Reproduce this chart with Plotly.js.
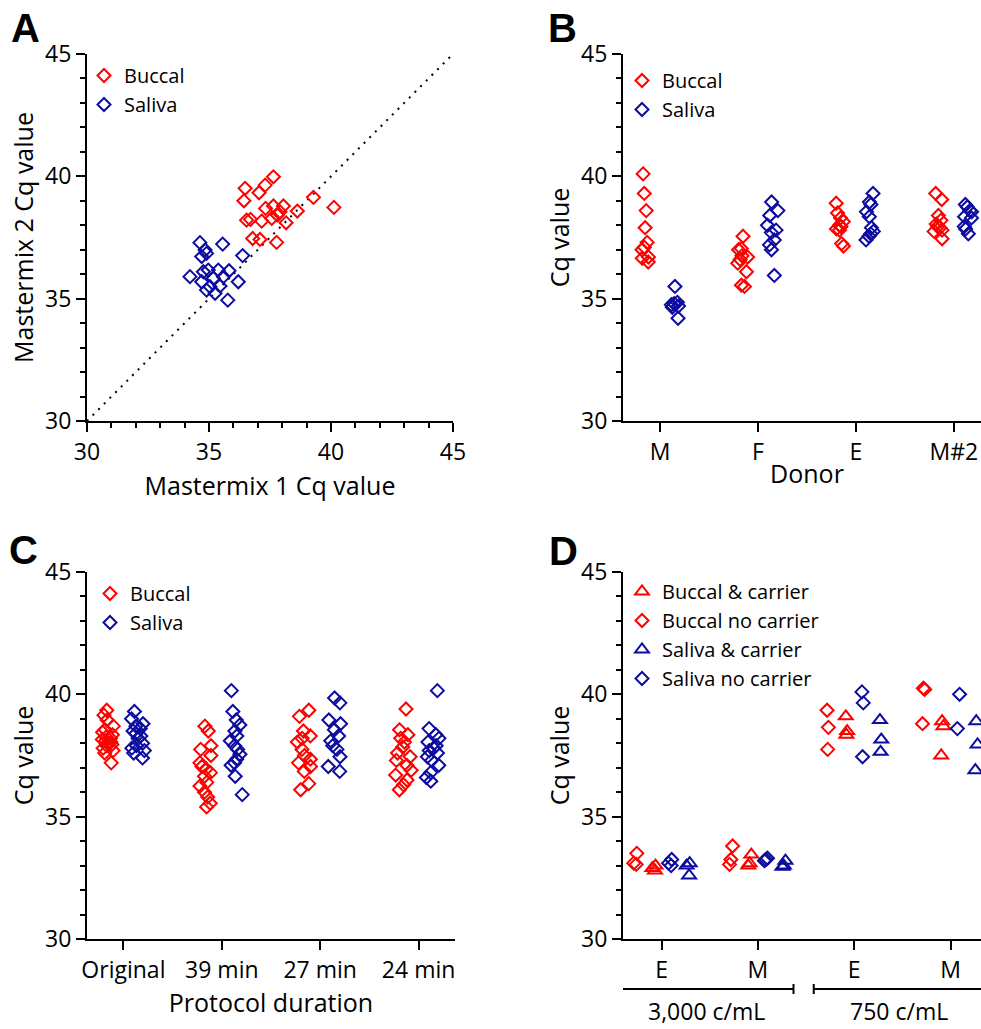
<!DOCTYPE html>
<html><head><meta charset="utf-8">
<script src="https://cdn.plot.ly/plotly-3.0.1.min.js"></script>
<style>
html,body{margin:0;padding:0;overflow:hidden;background:#fff;width:981px;height:1029px}
#chart{width:1000px;height:1029px}
</style>
</head><body><div id="chart"></div>
<script>
// ---------- DATA ----------
// Panel A: Mastermix 1 vs Mastermix 2 Cq values
const aBuccalX = [36.48,36.43,37.05,37.30,37.64,39.28,40.12,37.32,37.64,38.05,37.91,38.62,36.54,36.70,37.16,37.57,37.80,38.16,36.79,37.09,37.77];
const aBuccalY = [39.51,39.00,39.33,39.64,39.98,39.14,38.73,38.69,38.79,38.79,38.55,38.58,38.21,38.24,38.17,38.28,38.42,38.10,37.46,37.42,37.30];
const aSalivaX = [34.63,35.56,34.84,34.70,34.90,36.38,34.22,34.77,34.97,35.38,35.82,35.18,35.59,36.20,34.70,34.90,35.25,35.77,35.04,35.45];
const aSalivaY = [37.29,37.23,36.99,36.72,36.85,36.76,35.90,36.10,36.17,36.17,36.14,35.83,35.90,35.69,35.69,35.35,35.22,34.94,35.49,35.52];
const identityLine = [30, 45];

// Panel B: by donor
const donors = ['M','F','E','M#2'];
const bBuccal = [
  [40.1,39.3,38.6,37.9,37.3,37.1,37.0,36.7,36.65,36.5],
  [37.55,37.05,37.0,36.75,36.7,36.6,36.45,36.1,35.5,35.55],
  [38.9,38.5,38.3,38.15,38.0,37.95,37.85,37.8,37.25,37.15],
  [39.3,39.05,38.4,38.2,38.05,37.95,37.9,37.8,37.75,37.45]
];
const bSaliva = [
  [35.5,34.85,34.8,34.75,34.7,34.65,34.2],
  [38.95,38.6,38.4,38.0,37.8,37.7,37.4,37.2,37.0,35.95],
  [39.3,38.95,38.85,38.55,38.35,37.9,37.75,37.65,37.55,37.4],
  [38.85,38.75,38.6,38.55,38.35,38.3,37.95,37.85,37.65]
];

// Panel C: by protocol duration
const durations = ['Original','39 min','27 min','24 min'];
const cBuccal = [
  [39.35,39.15,38.95,38.7,38.55,38.45,38.35,38.25,38.2,38.15,38.1,38.05,38.0,37.95,37.9,37.8,37.7,37.6,37.2],
  [38.7,38.5,37.9,37.75,37.5,37.2,37.05,36.95,36.8,36.65,36.4,36.25,36.0,35.8,35.55,35.4],
  [39.35,39.1,38.5,38.3,38.2,38.05,37.75,37.5,37.35,37.2,37.05,36.85,36.35,36.1],
  [39.4,38.55,38.35,38.2,38.05,37.85,37.6,37.45,37.3,37.1,36.9,36.7,36.5,36.3,36.1]
];
const cSaliva = [
  [39.3,39.0,38.8,38.7,38.6,38.5,38.4,38.3,38.2,38.0,37.9,37.8,37.7,37.6,37.4],
  [40.15,39.3,38.95,38.75,38.5,38.3,38.1,37.9,37.75,37.55,37.35,37.2,37.1,36.65,35.9],
  [39.85,39.65,38.95,38.8,38.55,38.3,38.1,37.9,37.75,37.45,37.05,36.85],
  [40.15,38.6,38.35,38.2,38.05,37.9,37.8,37.7,37.6,37.45,37.3,37.1,36.8,36.6,36.45]
];

// Panel D: donor x concentration, with / without carrier
const dDonorLabels = ['E','M','E','M'];
const dConcLabels = ['3,000 c/mL','750 c/mL'];
const dBuccalNo      = [[33.5,33.1,33.05],[33.8,33.25,33.05],[39.35,38.65,37.75],[40.25,40.2,38.8]];
const dBuccalCarrier = [[33.0,32.9,32.8],[33.45,33.1,33.0],[39.1,38.5,38.35],[38.9,38.7,37.5]];
const dSalivaNo      = [[33.25,33.1,33.0],[33.3,33.25,33.2],[40.1,39.65,37.45],[40.0,38.6]];
const dSalivaCarrier = [[33.1,33.0,32.6],[33.2,33.0,32.95],[38.95,38.15,37.65],[38.9,37.95,36.9]];

// ---------- STYLE ----------
const RED = '#ff0000', BLUE = '#0c0ca0';
const FONT = '"Open Sans", Lato, sans-serif';
const W = 1000, H = 1029;
const px = v => v / W, py = v => 1 - v / H;
const TICK = 23, TITLE = 25, LEG = 20;

function flatX(cats, groups){ const out=[]; groups.forEach((g,i)=>g.forEach(()=>out.push(cats[i]))); return out; }
function flatY(groups){ return [].concat(...groups); }

function boxTrace(cats, groups, color, symbol, xa, ya, group, slot, jitter, pointpos, size){
  return {type:'box', x:flatX(cats,groups), y:flatY(groups), xaxis:xa, yaxis:ya,
    alignmentgroup:group, offsetgroup:group+slot,
    boxpoints:'all', jitter:jitter, pointpos:pointpos,
    fillcolor:'rgba(0,0,0,0)', line:{width:0,color:'rgba(0,0,0,0)'}, whiskerwidth:0,
    marker:{symbol:symbol, size:size, color:color, line:{width:2,color:color}},
    showlegend:false, hoverinfo:'y'};
}
function legendTrace(name, color, symbol, xa, ya, legend, size){
  return {type:'scatter', mode:'markers', x:[null], y:[null], xaxis:xa, yaxis:ya, name:name,
    legend:legend, marker:{symbol:symbol, size:size, color:color, line:{width:2,color:color}}};
}

const idx = [0,1,2,3];
const traces = [
  // A
  {type:'scatter', mode:'lines', x:identityLine, y:identityLine, xaxis:'x', yaxis:'y',
   line:{color:'#000', width:2, dash:'2px,6px'}, showlegend:false, hoverinfo:'skip'},
  {type:'scatter', mode:'markers', x:aBuccalX, y:aBuccalY, xaxis:'x', yaxis:'y', name:'Buccal',
   legend:'legend', marker:{symbol:'diamond-open', size:10, color:RED, line:{width:2,color:RED}}},
  {type:'scatter', mode:'markers', x:aSalivaX, y:aSalivaY, xaxis:'x', yaxis:'y', name:'Saliva',
   legend:'legend', marker:{symbol:'diamond-open', size:10, color:BLUE, line:{width:2,color:BLUE}}},
  // B
  boxTrace(donors, bBuccal, RED, 'diamond-open', 'x2', 'y2', 'b', 1, 0.38, 0, 10),
  boxTrace(donors, bSaliva, BLUE, 'diamond-open', 'x2', 'y2', 'b', 2, 0.38, 0, 10),
  legendTrace('Buccal', RED, 'diamond-open', 'x2', 'y2', 'legend2', 10),
  legendTrace('Saliva', BLUE, 'diamond-open', 'x2', 'y2', 'legend2', 10),
  // C
  boxTrace(durations, cBuccal, RED, 'diamond-open', 'x3', 'y3', 'c', 1, 0.55, 0, 10),
  boxTrace(durations, cSaliva, BLUE, 'diamond-open', 'x3', 'y3', 'c', 2, 0.55, 0, 10),
  legendTrace('Buccal', RED, 'diamond-open', 'x3', 'y3', 'legend3', 10),
  legendTrace('Saliva', BLUE, 'diamond-open', 'x3', 'y3', 'legend3', 10),
  // D (group order: buccal no carrier, buccal & carrier, saliva no carrier, saliva & carrier)
  boxTrace(idx, dBuccalNo, RED, 'diamond-open', 'x4', 'y4', 'd', 1, 0.3, -0.6, 10),
  boxTrace(idx, dBuccalCarrier, RED, 'triangle-up-open', 'x4', 'y4', 'd', 2, 0.3, -0.05, 12),
  boxTrace(idx, dSalivaNo, BLUE, 'diamond-open', 'x4', 'y4', 'd', 3, 0.3, 0.15, 10),
  boxTrace(idx, dSalivaCarrier, BLUE, 'triangle-up-open', 'x4', 'y4', 'd', 4, 0.3, 0.6, 12),
  legendTrace('Buccal & carrier', RED, 'triangle-up-open', 'x4', 'y4', 'legend4', 12),
  legendTrace('Buccal no carrier', RED, 'diamond-open', 'x4', 'y4', 'legend4', 10),
  legendTrace('Saliva & carrier', BLUE, 'triangle-up-open', 'x4', 'y4', 'legend4', 12),
  legendTrace('Saliva no carrier', BLUE, 'diamond-open', 'x4', 'y4', 'legend4', 10)
];

const axisBase = {showline:true, linewidth:2, linecolor:'#000', ticks:'outside', ticklen:9, tickwidth:2,
  tickcolor:'#000', showgrid:false, zeroline:false, tickfont:{size:TICK,color:'#000'}, fixedrange:true};
function yAxis(top, bottom, anchor, title){
  return Object.assign({}, axisBase, {domain:[py(bottom), py(top)], anchor:anchor, range:[30,45],
    tick0:30, dtick:5, minor:{dtick:1, ticks:'outside', ticklen:5, tickwidth:2, tickcolor:'#000'},
    title:{text:title, font:{size:TITLE,color:'#000'}, standoff:4}});
}
function xCat(left, right, anchor, range, title, standoff, extra){
  return Object.assign({}, axisBase, {domain:[px(left), px(right)], anchor:anchor, range:range,
    title:{text:title, font:{size:TITLE,color:'#000'}, standoff:standoff}}, extra||{});
}

const legendBase = {bgcolor:'rgba(0,0,0,0)', borderwidth:0, font:{size:LEG,color:'#000'},
  itemwidth:30, xanchor:'left', yanchor:'top'};

const letter = (t, x, y) => ({text:'<b>'+t+'</b>', x:px(x), y:py(y), xref:'paper', yref:'paper',
  showarrow:false, xanchor:'center', yanchor:'middle', font:{family:'Liberation Sans, Arial, sans-serif', size:40, color:'#000'}});

const capLine = (x, y) => ({type:'line', xref:'x4', yref:'paper', x0:x, x1:x, y0:py(y-5), y1:py(y+5), line:{color:'#000',width:2}});

const layout = {
  width:W, height:H, margin:{l:0,r:0,t:0,b:0}, paper_bgcolor:'#fff', plot_bgcolor:'#fff',
  font:{family:FONT, color:'#000'}, showlegend:true,
  boxmode:'group', boxgap:0.39, boxgroupgap:0,
  xaxis: Object.assign({}, axisBase, {domain:[px(87),px(453)], anchor:'y', range:[30,45], tick0:30, dtick:5,
    minor:{dtick:1, ticks:'outside', ticklen:5, tickwidth:2, tickcolor:'#000'},
    title:{text:'Mastermix 1 Cq value', font:{size:TITLE,color:'#000'}, standoff:12}}),
  yaxis: yAxis(54, 421, 'x', 'Mastermix 2 Cq value'),
  xaxis2: xCat(623, 991, 'y2', [-0.38, 3.38], 'Donor', 0, {type:'category', categoryarray:donors, categoryorder:'array'}),
  yaxis2: yAxis(54, 421, 'x2', 'Cq value'),
  xaxis3: xCat(87, 455, 'y3', [-0.37, 3.37], 'Protocol duration', 8, {type:'category', categoryarray:durations, categoryorder:'array'}),
  yaxis3: yAxis(572, 939, 'x3', 'Cq value'),
  xaxis4: xCat(623, 991, 'y4', [-0.4, 3.42], '', 0, {type:'linear', tickvals:idx, ticktext:dDonorLabels}),
  yaxis4: yAxis(572, 939, 'x4', 'Cq value'),
  legend:  Object.assign({}, legendBase, {x:px(84),  y:py(56)}),
  legend2: Object.assign({}, legendBase, {x:px(622), y:py(61)}),
  legend3: Object.assign({}, legendBase, {x:px(90),  y:py(574)}),
  legend4: Object.assign({}, legendBase, {x:px(622), y:py(572)}),
  annotations: [
    letter('A', 25, 28), letter('B', 562, 28), letter('C', 23, 550), letter('D', 563, 551),
    {text:dConcLabels[0], x:0.47, xref:'x4', y:0, yref:'paper', showarrow:false, xanchor:'center', yanchor:'bottom', font:{size:TICK,color:'#000'}},
    {text:dConcLabels[1], x:2.47, xref:'x4', y:0, yref:'paper', showarrow:false, xanchor:'center', yanchor:'bottom', font:{size:TICK,color:'#000'}}
  ],
  shapes: [
    {type:'line', xref:'x4', yref:'paper', x0:-0.42, x1:1.37, y0:py(989), y1:py(989), line:{color:'#000',width:2}},
    capLine(-0.42, 989), capLine(1.37, 989),
    {type:'line', xref:'x4', yref:'paper', x0:1.58, x1:3.37, y0:py(989), y1:py(989), line:{color:'#000',width:2}},
    capLine(1.58, 989), capLine(3.37, 989)
  ]
};

Plotly.newPlot('chart', traces, layout, {staticPlot:true, displayModeBar:false});
</script></body></html>
